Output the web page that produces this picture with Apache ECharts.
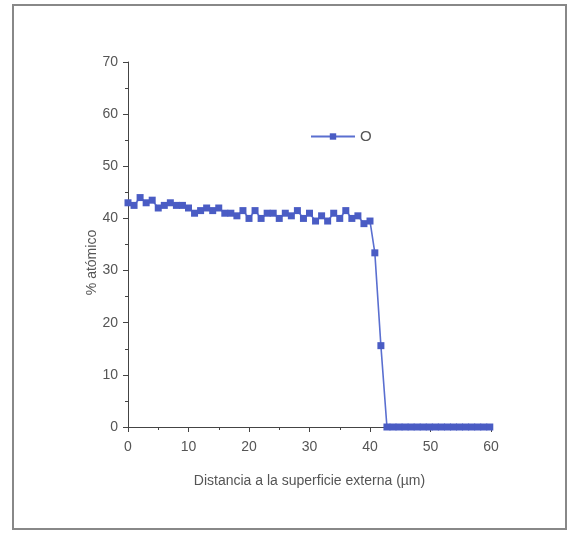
<!DOCTYPE html>
<html>
<head>
<meta charset="utf-8">
<script src="https://cdn.jsdelivr.net/npm/echarts@6/dist/echarts.min.js"></script>
<style>
html,body{margin:0;padding:0;background:#fff;}
#c{width:568px;height:533px;}
</style>
</head>
<body>
<div id="c"></div>
<script>
// Distance (µm) and O atomic %
const xValues = [0,1,2,3,4,5,6,7,8,9,10,11,12,13,14,15,16,17,18,19,20,21,22,23,24,25,26,27,28,29,30,31,32,33,34,35,36,37,38,39,40,40.8,41.8,42.8,43.8,44.8,45.8,46.8,47.8,48.8,49.8,50.8,51.8,52.8,53.8,54.8,55.8,56.8,57.8,58.8,59.8];
const oValues = [43,42.5,44,43,43.5,42,42.5,43,42.5,42.5,42,41,41.5,42,41.5,42,41,41,40.5,41.5,40,41.5,40,41,41,40,41,40.5,41.5,40,41,39.5,40.5,39.5,41,40,41.5,40,40.5,39,39.5,33.4,15.6,0,0,0,0,0,0,0,0,0,0,0,0,0,0,0,0,0,0];
const seriesName = 'O';
const xAxisName = 'Distancia a la superficie externa (µm)';
const yAxisName = '% atómico';

const chart = echarts.init(document.getElementById('c'));
const txt = '#555';
const ff = 'Liberation Sans, Arial, sans-serif';
const axisStyle = {color:'#444', width:1};
chart.setOption({
  animation:false,
  backgroundColor:'#fff',
  graphic:[{type:'rect', shape:{x:13, y:5, width:553, height:524}, style:{fill:'none', stroke:'#888', lineWidth:2}}],
  grid:{left:128, right:77, top:62, bottom:106},
  legend:{
    left:305, top:124, itemWidth:44, itemHeight:8, itemGap:4,
    textStyle:{color:txt, fontSize:15, fontFamily:ff},
    data:[seriesName]
  },
  xAxis:{
    type:'value', min:0, max:60, interval:10,
    name:xAxisName, nameLocation:'middle', nameGap:47,
    nameTextStyle:{color:txt, fontSize:14, fontFamily:ff},
    axisLine:{lineStyle:axisStyle},
    axisTick:{show:true, inside:false, length:5, lineStyle:axisStyle},
    minorTick:{show:true, splitNumber:2, length:3, lineStyle:{color:'#444'}},
    axisLabel:{color:txt, fontSize:14, margin:13, fontFamily:ff},
    splitLine:{show:false}
  },
  yAxis:{
    type:'value', min:0, max:70, interval:10,
    name:yAxisName, nameLocation:'middle', nameGap:29, nameRotate:90, nameMoveOverlap:false,
    nameTextStyle:{color:txt, fontSize:14, fontFamily:ff, padding:[0,36,0,0]},
    axisLine:{show:true, lineStyle:axisStyle},
    axisTick:{show:true, inside:false, length:5, lineStyle:axisStyle},
    minorTick:{show:true, splitNumber:2, length:3, lineStyle:{color:'#444'}},
    axisLabel:{color:txt, fontSize:14, margin:10, fontFamily:ff},
    splitLine:{show:false}
  },
  series:[{
    name:seriesName, type:'line',
    data:xValues.map((x,i)=>[x,oValues[i]]),
    symbol:'rect', symbolSize:7, showAllSymbol:true,
    lineStyle:{color:'#5a6fd0', width:1.6},
    itemStyle:{color:'#4a5cc4'}
  }]
});
</script>
</body>
</html>
